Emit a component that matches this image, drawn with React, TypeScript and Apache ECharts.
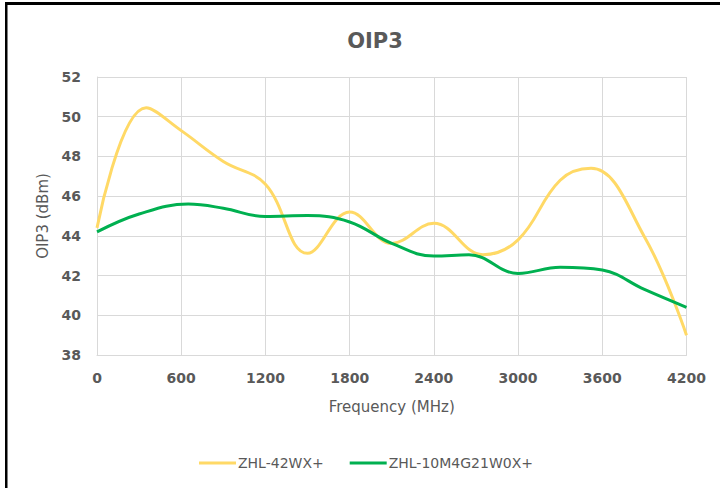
import React, { useEffect, useRef } from "react";
import * as echarts from "echarts";

const titleText = "OIP3";
const xName = "Frequency (MHz)";
const yName = "OIP3 (dBm)";
const seriesNames = ["ZHL-42WX+", "ZHL-10M4G21W0X+"];

// frequency (MHz) / OIP3 (dBm)
const freqA = [0, 350, 600, 900, 1200, 1500, 1800, 2100, 2400, 2750, 3000, 3300, 3520, 3900, 4200];
const oip3A = [44.4, 50.45, 49.3, 47.75, 46.6, 43.12, 45.2, 43.62, 44.63, 43.05, 43.8, 46.8, 47.4, 43.96, 39.0];

const freqB = [0, 300, 650, 900, 1200, 1500, 1800, 2100, 2400, 2650, 3000, 3300, 3600, 3900, 4200];
const oip3B = [44.2, 45.1, 45.6, 45.39, 44.97, 45.02, 44.7, 43.62, 42.98, 43.05, 42.11, 42.42, 42.28, 41.3, 40.4];

const FONT = "DejaVu Sans";
const TXT = "#595959";
const GRID = "#d9d9d9";

export default function App() {
  const ref = useRef<HTMLDivElement>(null);
  useEffect(() => {
    if (!ref.current) return;
    const chart = echarts.init(ref.current, undefined, { renderer: "svg" });
    const dataA = freqA.map((f, i) => [f, oip3A[i]]);
    const dataB = freqB.map((f, i) => [f, oip3B[i]]);
    chart.setOption({
      animation: false,
      backgroundColor: "#ffffff",
      title: {
        text: titleText,
        left: 370,
        textAlign: "center",
        top: 25,
        textStyle: { fontFamily: FONT, fontSize: 21, fontWeight: "bold", color: TXT },
      },
      grid: { left: 97, right: 33.5, top: 77, bottom: 133 },
      legend: {
        left: 194,
        top: 451,
        itemWidth: 37,
        itemHeight: 3,
        itemGap: 26,
        icon: "rect",
        textStyle: { fontFamily: FONT, fontSize: 14, color: TXT, padding: [0, 0, 0, -3] },
        data: seriesNames,
      },
      xAxis: {
        type: "value",
        min: 0,
        max: 4200,
        interval: 600,
        name: xName,
        nameLocation: "middle",
        nameGap: 44,
        nameTextStyle: { fontFamily: FONT, fontSize: 15, color: TXT },
        axisLine: { show: true, lineStyle: { color: GRID, width: 1 } },
        axisTick: { show: false },
        axisLabel: {
          fontFamily: FONT,
          fontSize: 14,
          fontWeight: "bold",
          color: TXT,
          margin: 16,
          formatter: (v: number) => String(v),
        },
        splitLine: { show: true, lineStyle: { color: GRID, width: 1 } },
      },
      yAxis: {
        type: "value",
        min: 38,
        max: 52,
        interval: 2,
        name: yName,
        nameLocation: "middle",
        nameGap: 44,
        nameTextStyle: { fontFamily: FONT, fontSize: 15, color: TXT },
        axisLine: { show: true, lineStyle: { color: GRID, width: 1 } },
        axisTick: { show: false },
        axisLabel: { fontFamily: FONT, fontSize: 14, fontWeight: "bold", color: TXT, margin: 16 },
        splitLine: { show: true, lineStyle: { color: GRID, width: 1 } },
      },
      series: [
        {
          name: seriesNames[0],
          type: "line",
          data: dataA,
          smooth: 0.4,
          showSymbol: false,
          symbol: "none",
          color: "#FFD966",
          lineStyle: { color: "#FFD966", width: 3 },
        },
        {
          name: seriesNames[1],
          type: "line",
          data: dataB,
          smooth: 0.4,
          showSymbol: false,
          symbol: "none",
          color: "#00B050",
          lineStyle: { color: "#00B050", width: 3 },
        },
      ],
      graphic: [
        { type: "rect", shape: { x: 5, y: 2, width: 715, height: 3 }, style: { fill: "#000" }, z: 100 },
        { type: "rect", shape: { x: 5, y: 2, width: 2.5, height: 486 }, style: { fill: "#000" }, z: 100 },
      ],
    });
    return () => chart.dispose();
  }, []);
  return (
    <div
      ref={ref}
      style={{ position: "fixed", left: 0, top: 0, width: 720, height: 488 }}
    />
  );
}
